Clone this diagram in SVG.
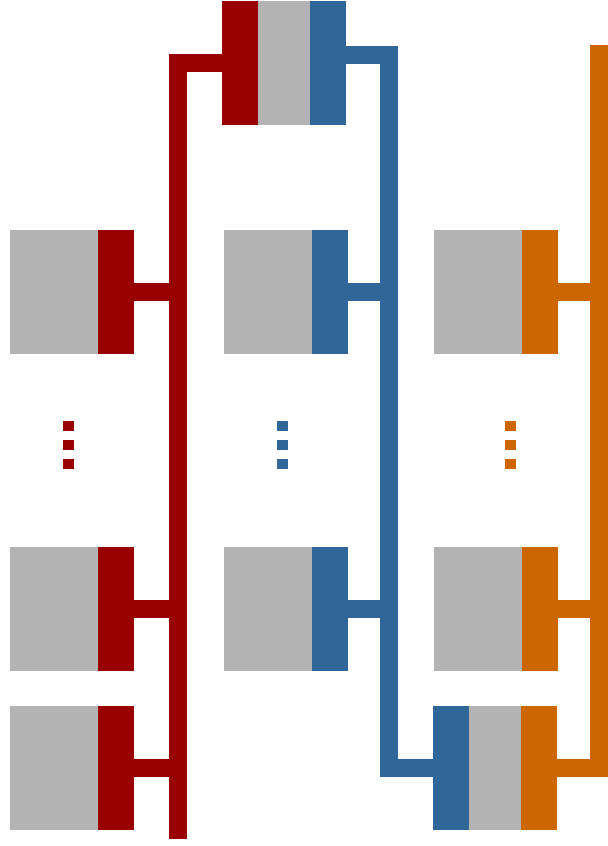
<svg xmlns="http://www.w3.org/2000/svg" width="608" height="846" viewBox="0 0 608 846">
<style>
.g{fill:#b3b3b3}
.r{fill:#990000}
.b{fill:#316699}
.o{fill:#cc6600}
.lr{stroke:#990000}
.lb{stroke:#316699}
.lo{stroke:#cc6600}
#connectors path{fill:none;stroke-width:18;stroke-linejoin:miter;stroke-linecap:butt}
</style>
<rect width="608" height="846" fill="#ffffff"/>
<g id="connectors">
<path class="lr" d="M222 63 H178 V839"/>
<path class="lr" d="M134 292 H178"/>
<path class="lr" d="M134 609 H178"/>
<path class="lr" d="M134 768 H178"/>
<path class="lb" d="M346 55 H389 V768 H433"/>
<path class="lb" d="M348 292 H389"/>
<path class="lb" d="M348 609 H389"/>
<path class="lo" d="M599 45 V768 H557"/>
<path class="lo" d="M558 292 H599"/>
<path class="lo" d="M558 609 H599"/>
</g>
<g id="top-node">
<rect class="r" x="222" y="1" width="36" height="124"/>
<rect class="g" x="258" y="1" width="52" height="124"/>
<rect class="b" x="310" y="1" width="36" height="124"/>
</g>
<g id="red-1">
<rect class="g" x="10" y="230" width="88" height="124"/>
<rect class="r" x="98" y="230" width="36" height="124"/>
</g>
<g id="red-2">
<rect class="g" x="10" y="547" width="88" height="124"/>
<rect class="r" x="98" y="547" width="36" height="124"/>
</g>
<g id="red-3">
<rect class="g" x="10" y="706" width="88" height="124"/>
<rect class="r" x="98" y="706" width="36" height="124"/>
</g>
<g id="blue-1">
<rect class="g" x="224" y="230" width="88" height="124"/>
<rect class="b" x="312" y="230" width="36" height="124"/>
</g>
<g id="blue-2">
<rect class="g" x="224" y="547" width="88" height="124"/>
<rect class="b" x="312" y="547" width="36" height="124"/>
</g>
<g id="orange-1">
<rect class="g" x="434" y="230" width="88" height="124"/>
<rect class="o" x="522" y="230" width="36" height="124"/>
</g>
<g id="orange-2">
<rect class="g" x="434" y="547" width="88" height="124"/>
<rect class="o" x="522" y="547" width="36" height="124"/>
</g>
<g id="bottom-node">
<rect class="b" x="433" y="706" width="36" height="124"/>
<rect class="g" x="469" y="706" width="52" height="124"/>
<rect class="o" x="521" y="706" width="36" height="124"/>
</g>
<g id="red-dots">
<rect class="r" x="63" y="421" width="11" height="10"/>
<rect class="r" x="63" y="440" width="11" height="10"/>
<rect class="r" x="63" y="459" width="11" height="10"/>
</g>
<g id="blue-dots">
<rect class="b" x="277" y="421" width="11" height="10"/>
<rect class="b" x="277" y="440" width="11" height="10"/>
<rect class="b" x="277" y="459" width="11" height="10"/>
</g>
<g id="orange-dots">
<rect class="o" x="505" y="421" width="11" height="10"/>
<rect class="o" x="505" y="440" width="11" height="10"/>
<rect class="o" x="505" y="459" width="11" height="10"/>
</g>
</svg>
